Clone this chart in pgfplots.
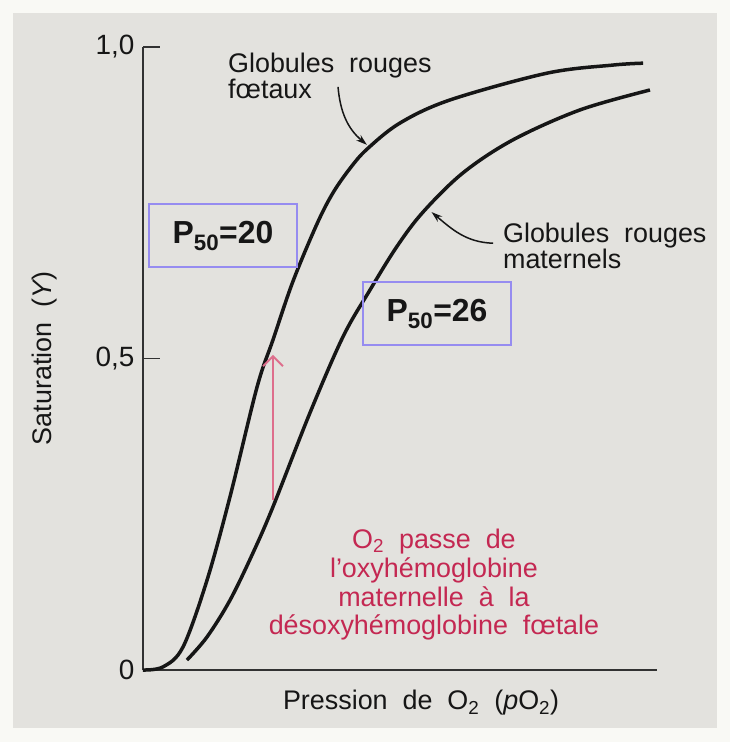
\documentclass[border=0pt]{standalone}
\usepackage{fontspec}
\setmainfont{Liberation Sans}
\usepackage{pgfplots}
\pgfplotsset{compat=1.18}
\usetikzlibrary{arrows.meta}

\definecolor{scan}{RGB}{227,226,222}
\definecolor{edge}{RGB}{249,249,245}
\definecolor{ink}{RGB}{22,22,22}
\definecolor{axisgray}{RGB}{50,50,50}
\definecolor{boxblue}{RGB}{150,140,240}
\definecolor{redtext}{RGB}{196,40,82}
\definecolor{arrowpink}{RGB}{222,110,140}

\newcommand\lab{\fontsize{27}{27}\selectfont}

\begin{document}
\begin{tikzpicture}
\path[use as bounding box, fill=edge] (0,0) rectangle (730bp,742bp);
\fill[scan] (13bp,14bp) rectangle (717bp,729bp);

\begin{axis}[
    at={(143bp,72bp)}, anchor=south west,
    scale only axis, width=514bp, height=623bp,
    xmin=0, xmax=84.26, ymin=0, ymax=1,
    enlargelimits=false, clip=false,
    axis x line=bottom, axis y line=left,
    axis line style={-, axisgray},
    x axis line style={line width=2.4bp},
    y axis line style={line width=1.8bp},
    xtick=\empty,
    ytick={0,0.5,1}, yticklabels={0,{0,5},{1,0}},
    tick align=inside, major tick length=17bp,
    tick style={axisgray, line width=1.5bp},
    /pgf/number format/assume math mode=true,
    ticklabel style={font=\fontsize{28}{28}\selectfont, text=ink},
    yticklabel style={anchor=east, xshift=-5bp},
    ylabel={Saturation\ \ ({\itshape Y})},
    ylabel style={at={(axis description cs:-0.191,0.5)}, anchor=center, font=\lab, text=ink},
    xlabel={Pression\ \ de\ \ O\textsubscript{2}\ \ ({\itshape p}O\textsubscript{2})},
    xlabel style={at={(axis description cs:0.541,-0.053)}, anchor=center, font=\lab, text=ink},
]

% globules rouges foetaux
\addplot[ink, line width=3.5bp, smooth, tension=0.55] coordinates {
    (0,0) (3.28,0.005) (6.56,0.037) (10.49,0.144) (14.26,0.278)
    (18.69,0.454) (21.31,0.530) (24.59,0.624) (28.52,0.716)
    (31.15,0.766) (34.0,0.806) (36.72,0.836) (42.13,0.878) (50.33,0.915)
    (66.23,0.958) (77.05,0.971) (81.97,0.974)
};

% globules rouges maternels
\addplot[ink, line width=3.5bp, smooth, tension=0.55] coordinates {
    (7.21,0.016) (10.49,0.053) (14.26,0.112) (18.03,0.188) (21.31,0.262)
    (27.38,0.413) (32.79,0.535) (37.21,0.610) (41.64,0.680) (45.90,0.735)
    (52.46,0.798) (60.66,0.851) (71.64,0.899) (83.11,0.931)
};

% transfert d'O2
\addplot[arrowpink, line width=2.8bp, -{Straight Barb[length=10bp, width=20bp, line width=2bp]}]
    coordinates {(21.31,0.273) (21.31,0.506)};

\node[font=\lab, text=ink, align=left, anchor=west, inner sep=0pt] at (axis cs:13.93,0.953)
    {Globules\ \ rouges\\[-1bp]f\oe taux};
\node[font=\lab, text=ink, align=left, anchor=west, inner sep=0pt] at (axis cs:59.0,0.681)
    {Globules\ \ rouges\\[-1bp]maternels};

\draw[ink, line width=1.5bp, -{Stealth[length=11bp, width=7bp]}]
    (axis cs:31.97,0.936) to[out=-85, in=140] (axis cs:36.7,0.843);
\draw[ink, line width=1.5bp, -{Stealth[length=11bp, width=7bp]}]
    (axis cs:57.38,0.685) to[out=178, in=-40] (axis cs:47.3,0.735);

\node[draw=boxblue, line width=1.8bp, minimum width=148bp, minimum height=63bp,
      font=\fontsize{32}{34}\selectfont\bfseries, text=ink]
    at (axis cs:13.11,0.697) {P\textsubscript{50}=20};
\node[draw=boxblue, line width=1.8bp, minimum width=148bp, minimum height=63bp,
      font=\fontsize{32}{34}\selectfont\bfseries, text=ink]
    at (axis cs:48.2,0.572) {P\textsubscript{50}=26};

\node[font=\fontsize{27}{29}\selectfont, text=redtext, align=center] at (axis cs:47.7,0.137)
    {O\textsubscript{2}\ \ passe\ \ de\\l'oxyh\'emoglobine\\maternelle\ \ \`a\ \ la\\d\'esoxyh\'emoglobine\ \ f\oe tale};

\end{axis}
\end{tikzpicture}
\end{document}
